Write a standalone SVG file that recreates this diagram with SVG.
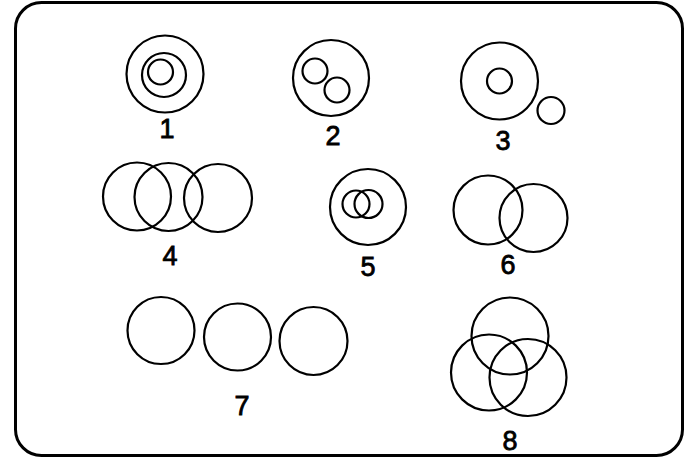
<svg xmlns="http://www.w3.org/2000/svg" width="686" height="458" viewBox="0 0 686 458">
<style>
circle{fill:none;stroke:#000;stroke-width:2.2}
.frame{fill:none;stroke:#000;stroke-width:3}
text{font-family:"Liberation Sans",Arial,sans-serif;font-size:27px;fill:#000;stroke:#000;stroke-width:0.8;text-anchor:middle}
</style>
<rect width="686" height="458" fill="#fff"/>
<rect class="frame" x="15.5" y="2.5" width="667" height="453" rx="26"/>
<g id="d1">
<circle cx="165" cy="74" r="38.5"/>
<circle cx="164" cy="75" r="22"/>
<circle cx="160.5" cy="72" r="12.5"/>
<text x="167" y="138">1</text>
</g>
<g id="d2">
<circle cx="331" cy="78" r="38"/>
<circle cx="315" cy="71" r="12.5"/>
<circle cx="337" cy="90" r="12.5"/>
<text x="333" y="145">2</text>
</g>
<g id="d3">
<circle cx="499.5" cy="81" r="38.5"/>
<circle cx="499.5" cy="81" r="12.5"/>
<circle cx="551" cy="110.5" r="13.5"/>
<text x="503" y="150">3</text>
</g>
<g id="d4">
<circle cx="137" cy="196.5" r="34"/>
<circle cx="168.5" cy="197" r="34"/>
<circle cx="218" cy="198" r="34"/>
<text x="170" y="265">4</text>
</g>
<g id="d5">
<circle cx="368" cy="207" r="38"/>
<circle cx="356" cy="204" r="13.5"/>
<circle cx="368.5" cy="204" r="14"/>
<text x="368" y="276">5</text>
</g>
<g id="d6">
<circle cx="488" cy="210" r="34.5"/>
<circle cx="533.5" cy="218" r="34"/>
<text x="508" y="274">6</text>
</g>
<g id="d7">
<circle cx="161" cy="330.5" r="33.5"/>
<circle cx="237.5" cy="337" r="33.5"/>
<circle cx="313.5" cy="341" r="34"/>
<text x="242" y="415">7</text>
</g>
<g id="d8">
<circle cx="510" cy="336" r="38.5"/>
<circle cx="489" cy="372.5" r="38"/>
<circle cx="528" cy="377.5" r="38.5"/>
<text x="510" y="450">8</text>
</g>
</svg>
